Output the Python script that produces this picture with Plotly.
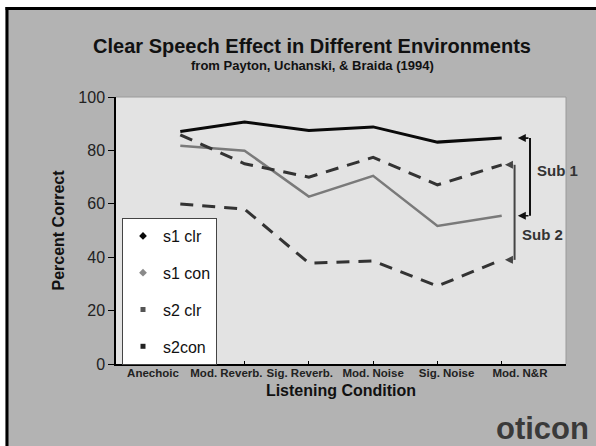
import plotly.graph_objects as go

# data
categories = ["Anechoic", "Mod. Reverb.", "Sig. Reverb.", "Mod. Noise", "Sig. Noise", "Mod. N&R"]
s1_clr = [87.1, 90.6, 87.5, 88.8, 83.1, 84.6]
s1_con = [81.7, 79.9, 62.7, 70.5, 51.7, 55.5]
s2_clr = [85.8, 75.0, 70.0, 77.4, 67.1, 74.6]
s2_con = [59.9, 58.0, 37.8, 38.6, 29.2, 39.0]
y_ticks = [0, 20, 40, 60, 80, 100]

W, H = 596, 446
L, R, T, B = 116, 30, 97, 82
FONT = "Liberation Sans, Arial, sans-serif"


def px_x(p):
    return (p - L) / (W - L - R)


def px_y(p):
    return (H - B - p) / (H - T - B)


fig = go.Figure()

series = [
    ("s1 clr", s1_clr, "#0a0a0a", "solid", 3, "diamond", "#0a0a0a", 6),
    ("s1 con", s1_con, "#7a7a7a", "solid", 2.5, "diamond", "#8a8a8a", 6),
    ("s2 clr", s2_clr, "#333333", "13px,9px", 3, "square", "#555555", 5),
    ("s2con", s2_con, "#333333", "13px,9px", 3, "square", "#222222", 5),
]

for name, vals, color, dash, width, symbol, mcolor, msize in series:
    fig.add_trace(go.Scatter(
        x=categories, y=vals, mode="lines",
        line=dict(color=color, width=width, dash=dash),
        showlegend=False, hoverinfo="skip",
    ))
    # marker-only entry for the legend (sits on the label axis so it gets drawn)
    fig.add_trace(go.Scatter(
        x=[None], y=[None], mode="markers", name=name, legendgroup=name,
        xaxis="x2", marker=dict(symbol=symbol, color=mcolor, size=msize),
    ))

# brackets at the right end
brackets = [
    ("Sub 1", s1_clr[-1], s1_con[-1], 5.44, 5.25, "#111111", 5.52, 72.5),
    ("Sub 2", s2_clr[-1], s2_con[-1], 5.2, 5.05, "#444444", 5.28, 48.5),
]
for label, top, bottom, vx, tip, color, lx, ly in brackets:
    fig.add_shape(type="line", xref="x", yref="y", x0=vx, x1=vx, y0=top, y1=bottom,
                  line=dict(color=color, width=2))
    for v in (top, bottom):
        fig.add_annotation(x=tip, y=v, ax=vx, ay=v, xref="x", yref="y", axref="x", ayref="y",
                           text="", showarrow=True, arrowhead=2, arrowsize=1,
                           arrowwidth=1.6, arrowcolor=color, standoff=0)
    fig.add_annotation(x=lx, y=ly, xref="x", yref="y", text=label, showarrow=False,
                       xanchor="left", yanchor="middle",
                       font=dict(family=FONT, size=15, color="#333333", weight="bold"))

fig.add_annotation(x=px_x(312), y=px_y(66), xref="paper", yref="paper",
                   text="from Payton, Uchanski, & Braida (1994)", showarrow=False,
                   xanchor="center", yanchor="middle",
                   font=dict(family=FONT, size=13, color="#111111", weight="bold"))

fig.add_annotation(x=px_x(591), y=px_y(428), xref="paper", yref="paper",
                   text="oticon", showarrow=False, xanchor="right", yanchor="middle",
                   font=dict(family=FONT, size=31, color="#3a3a3a", weight="bold"))

# frame: white strips, black border, gray plot border
fig.add_shape(type="rect", xref="paper", yref="paper", x0=px_x(-5), x1=px_x(5.5),
              y0=px_y(-5), y1=px_y(460), fillcolor="white", line_width=0)
fig.add_shape(type="rect", xref="paper", yref="paper", x0=px_x(-5), x1=px_x(605),
              y0=px_y(-5), y1=px_y(7), fillcolor="white", line_width=0)
fig.add_shape(type="line", xref="paper", yref="paper", x0=px_x(7), x1=px_x(7),
              y0=px_y(7), y1=px_y(460), line=dict(color="black", width=3))
fig.add_shape(type="line", xref="paper", yref="paper", x0=px_x(5.5), x1=px_x(605),
              y0=px_y(8.5), y1=px_y(8.5), line=dict(color="black", width=3))
fig.add_shape(type="line", xref="paper", yref="paper", x0=0, x1=1, y0=1, y1=1,
              line=dict(color="#9a9a9a", width=1))
fig.add_shape(type="line", xref="paper", yref="paper", x0=1, x1=1, y0=0, y1=1,
              line=dict(color="#9a9a9a", width=1))

fig.update_layout(
    width=W, height=H, autosize=False,
    margin=dict(l=L, r=R, t=T, b=B),
    paper_bgcolor="#b3b3b3", plot_bgcolor="#e3e3e3",
    font=dict(family=FONT, color="#111111"),
    title=dict(text="Clear Speech Effect in Different Environments",
               xref="paper", x=px_x(312), xanchor="center",
               yref="container", y=1 - 46 / H, yanchor="middle",
               font=dict(family=FONT, size=20, color="#111111", weight="bold")),
    xaxis=dict(type="category", range=[-1, 6], showticklabels=False,
               ticks="inside", ticklen=3, tickcolor="black",
               showline=True, linecolor="black", linewidth=1.5,
               showgrid=False, zeroline=False),
    xaxis2=dict(overlaying="x", anchor="y", side="bottom", range=[-0.504, 5.627],
                tickmode="array", tickvals=list(range(len(categories))), ticktext=categories,
                ticks="", showline=False, showgrid=False, zeroline=False,
                tickfont=dict(family=FONT, size=11.5, color="#222222", weight="bold"),
                title=dict(text="Listening Condition", standoff=7,
                           font=dict(family=FONT, size=16, color="#111111", weight="bold"))),
    yaxis=dict(range=[0, 100], tickmode="array", tickvals=y_ticks,
               ticks="outside", ticklen=6, tickcolor="black",
               showline=True, linecolor="black", linewidth=1.5,
               showgrid=False, zeroline=False,
               tickfont=dict(family=FONT, size=16, color="#222222"),
               title=dict(text="Percent Correct", standoff=10,
                          font=dict(family=FONT, size=16, color="#111111", weight="bold"))),
    legend=dict(x=px_x(122), y=px_y(218), xanchor="left", yanchor="top",
                bgcolor="white", bordercolor="#444444", borderwidth=1,
                traceorder="grouped", tracegroupgap=13, itemwidth=30,
                font=dict(family=FONT, size=16, color="#111111")),
)

fig.write_html("out.html", config={"displayModeBar": False},
               post_script="document.body.style.margin='0';")
